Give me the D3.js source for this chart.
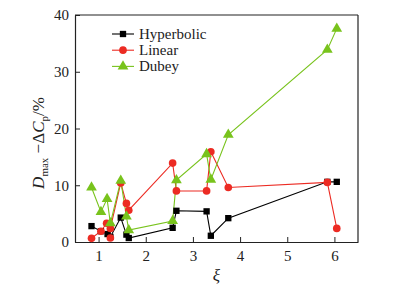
<!DOCTYPE html>
<html>
<head>
<meta charset="utf-8">
<script src="https://cdn.jsdelivr.net/npm/d3@7"></script>
<style>
body{margin:0;background:#fff}
text{font-family:"Liberation Serif","DejaVu Serif",serif}
</style>
</head>
<body>
<svg id="chart" width="401" height="295"></svg>
<script>
var hypX = [0.85, 1.05, 1.19, 1.25, 1.47, 1.59, 1.64, 2.57, 2.65, 3.29, 3.38, 3.75, 5.85, 6.05]
var hypY = [2.8, 1.9, 1.4, 0.9, 4.3, 1.3, 0.7, 2.5, 5.5, 5.4, 1.1, 4.2, 10.6, 10.6]
var linX = [0.85, 1.05, 1.17, 1.25, 1.25, 1.47, 1.59, 1.64, 2.57, 2.65, 3.29, 3.38, 3.75, 5.85, 6.05]
var linY = [0.65, 1.9, 3.3, 0.7, 2.4, 10.4, 6.8, 5.6, 13.9, 9.0, 9.0, 15.9, 9.6, 10.5, 2.4]
var dubX = [0.85, 1.05, 1.18, 1.25, 1.47, 1.59, 1.64, 2.57, 2.65, 3.29, 3.38, 3.75, 5.85, 6.05]
var dubY = [9.6, 5.3, 7.6, 3.3, 10.8, 4.5, 2.1, 3.7, 10.9, 15.5, 11.0, 18.9, 33.9, 37.6]
var xTicks = [1, 2, 3, 4, 5, 6]
var yTicks = [0, 10, 20, 30, 40]
var seriesNames = ["Hyperbolic", "Linear", "Dubey"]

var margin = {left: 75, right: 43, top: 15, bottom: 53}
var W = 401, H = 295
var svg = d3.select("#chart")
var x = d3.scaleLinear().domain([0.5, 6.5]).range([margin.left, W - margin.right])
var y = d3.scaleLinear().domain([0, 40]).range([H - margin.bottom, margin.top])

var series = [
  {name: seriesNames[0], color: "#000000", shape: d3.symbolSquare, size: 40, pts: hypX.map((v, i) => [v, hypY[i]])},
  {name: seriesNames[1], color: "#ec2b23", shape: d3.symbolCircle, size: 46, pts: linX.map((v, i) => [v, linY[i]])},
  {name: seriesNames[2], color: "#78c31c", shape: d3.symbolTriangle, size: 50, pts: dubX.map((v, i) => [v, dubY[i]])}
]

// axes, ticks inside
var gx = svg.append("g").attr("transform", "translate(0," + y(0) + ")")
  .call(d3.axisBottom(x).tickValues(xTicks).tickFormat(d3.format("d")).tickSize(-5).tickPadding(8).tickSizeOuter(0))
gx.selectAll("text").attr("font-size", 15).attr("fill", "#222")
var gy = svg.append("g").attr("transform", "translate(" + x(0.5) + ",0)")
  .call(d3.axisLeft(y).tickValues(yTicks).tickFormat(d3.format("d")).tickSize(-5).tickPadding(6).tickSizeOuter(0))
gy.selectAll("text").attr("font-size", 15).attr("fill", "#222")
svg.selectAll(".domain").attr("stroke", "#222").attr("stroke-width", 1.2)
svg.selectAll(".tick line").attr("stroke", "#222")
// box top and right
svg.append("line").attr("x1", x(0.5)).attr("x2", x(6.5)).attr("y1", y(40)).attr("y2", y(40)).attr("stroke", "#222").attr("stroke-width", 1.2)
svg.append("line").attr("x1", x(6.5)).attr("x2", x(6.5)).attr("y1", y(40)).attr("y2", y(0)).attr("stroke", "#222").attr("stroke-width", 1.2)

var line = d3.line().x(d => x(d[0])).y(d => y(d[1]))
series.forEach(s => {
  svg.append("path").datum(s.pts).attr("d", line).attr("fill", "none").attr("stroke", s.color).attr("stroke-width", 1.1)
})
series.forEach(s => {
  svg.append("g").selectAll("path").data(s.pts).join("path")
    .attr("transform", d => "translate(" + x(d[0]) + "," + y(d[1]) + ")")
    .attr("d", d3.symbol().type(s.shape).size(s.size)).attr("fill", s.color)
})

// legend
var leg = svg.append("g").attr("transform", "translate(112,34)")
series.forEach((s, i) => {
  var g = leg.append("g").attr("transform", "translate(0," + (i * 16.2) + ")")
  g.append("line").attr("x1", 0).attr("x2", 22).attr("stroke", s.color).attr("stroke-width", 1.1)
  g.append("path").attr("transform", "translate(11,0)").attr("d", d3.symbol().type(s.shape).size(s.size)).attr("fill", s.color)
  g.append("text").attr("x", 27).attr("y", 5).attr("font-size", 15).attr("fill", "#222").text(s.name)
})

// axis titles
svg.append("text").attr("x", x(3.5)).attr("y", 281).attr("text-anchor", "middle").attr("font-size", 17)
  .attr("font-style", "italic").attr("fill", "#222").text("ξ")
var yl = svg.append("text").attr("transform", "translate(44,143) rotate(-90)").attr("text-anchor", "middle")
  .attr("font-size", 17).attr("fill", "#222")
yl.append("tspan").attr("font-style", "italic").text("D")
yl.append("tspan").attr("font-size", 11).attr("dy", 4).text("max")
yl.append("tspan").attr("dy", -4).text(" −Δ")
yl.append("tspan").attr("font-style", "italic").text("C")
yl.append("tspan").attr("font-size", 11).attr("dy", 4).text("p")
yl.append("tspan").attr("dy", -4).text("/%")
</script>
</body>
</html>
